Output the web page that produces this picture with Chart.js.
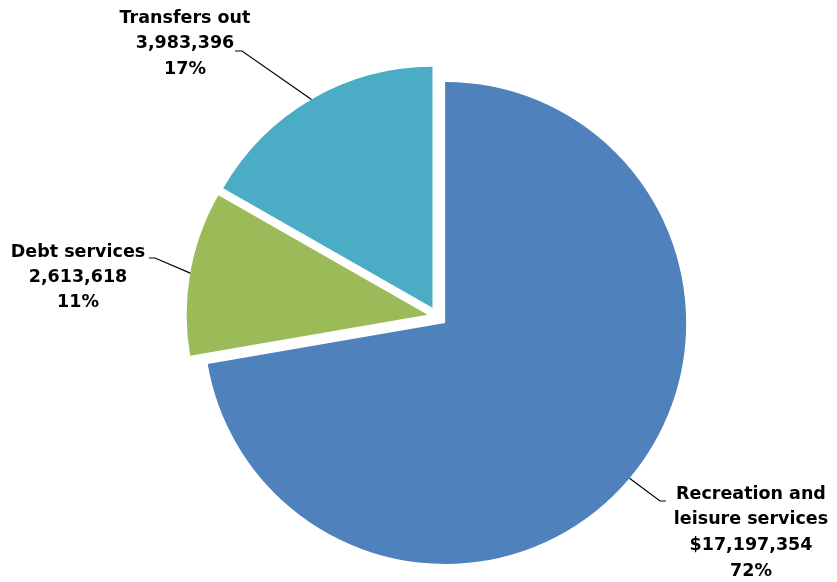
<!DOCTYPE html>
<html><head><meta charset="utf-8">
<script src="https://cdn.jsdelivr.net/npm/chart.js@4/dist/chart.umd.min.js"></script>
<style>html,body{margin:0;padding:0;background:#fff;overflow:hidden}#wrap{width:837px;height:582px}</style>
</head><body><div id="wrap"><canvas id="c" width="837" height="582"></canvas></div>
<script>
// ---- data ----
const categories = ['Recreation and leisure services', 'Debt services', 'Transfers out'];
const nameLines = [['Recreation and', 'leisure services'], ['Debt services'], ['Transfers out']];
const values = [17197354, 2613618, 3983396];
const valueLabels = ['$17,197,354', '2,613,618', '3,983,396'];
const percentLabels = ['72%', '11%', '17%'];
const colors = ['#4F81BD', '#9BBB59', '#4BACC6'];

// ---- layout (styling only) ----
const explode = 10;
const labelLayout = [
  { elbow: [660, 501], hook: [666, 501], cx: 751, cy: 494, lh: 25.7 },
  { elbow: [155, 258], hook: [149, 258], cx: 78, cy: 252, lh: 25 },
  { elbow: [242, 51], hook: [235, 51], cx: 185, cy: 18, lh: 25.5 }
];
const FONT = 'bold 17.5px "DejaVu Sans"';

const explodePlugin = {
  id: 'explode',
  afterDatasetUpdate(chart, args) {
    const meta = args.meta;
    meta.data.forEach(arc => {
      const mid = (arc.startAngle + arc.endAngle) / 2;
      arc.x += Math.cos(mid) * explode;
      arc.y += Math.sin(mid) * explode;
    });
  }
};

const labelPlugin = {
  id: 'pieLabels',
  afterDraw(chart) {
    const ctx = chart.ctx;
    const meta = chart.getDatasetMeta(0);
    ctx.save();
    meta.data.forEach((arc, i) => {
      const L = labelLayout[i];
      const mid = (arc.startAngle + arc.endAngle) / 2;
      const px = arc.x + Math.cos(mid) * arc.outerRadius;
      const py = arc.y + Math.sin(mid) * arc.outerRadius;
      ctx.strokeStyle = '#000';
      ctx.lineWidth = 1.2;
      ctx.beginPath();
      ctx.moveTo(px, py);
      ctx.lineTo(L.elbow[0], L.elbow[1]);
      ctx.lineTo(L.hook[0], L.hook[1]);
      ctx.stroke();
      const lines = nameLines[i].concat([valueLabels[i], percentLabels[i]]);
      ctx.fillStyle = '#000';
      ctx.font = FONT;
      ctx.textAlign = 'center';
      ctx.textBaseline = 'middle';
      lines.forEach((t, k) => ctx.fillText(t, L.cx, L.cy + k * L.lh));
    });
    ctx.restore();
  }
};

new Chart(document.getElementById('c'), {
  type: 'pie',
  data: {
    labels: categories,
    datasets: [{
      data: values,
      backgroundColor: colors,
      borderWidth: 0,
      radius: 241
    }]
  },
  options: {
    responsive: false,
    animation: false,
    layout: { padding: { left: 38, right: 0, top: 51, bottom: 0 } },
    plugins: { legend: { display: false }, tooltip: { enabled: false } }
  },
  plugins: [explodePlugin, labelPlugin]
});
</script>
</body></html>
